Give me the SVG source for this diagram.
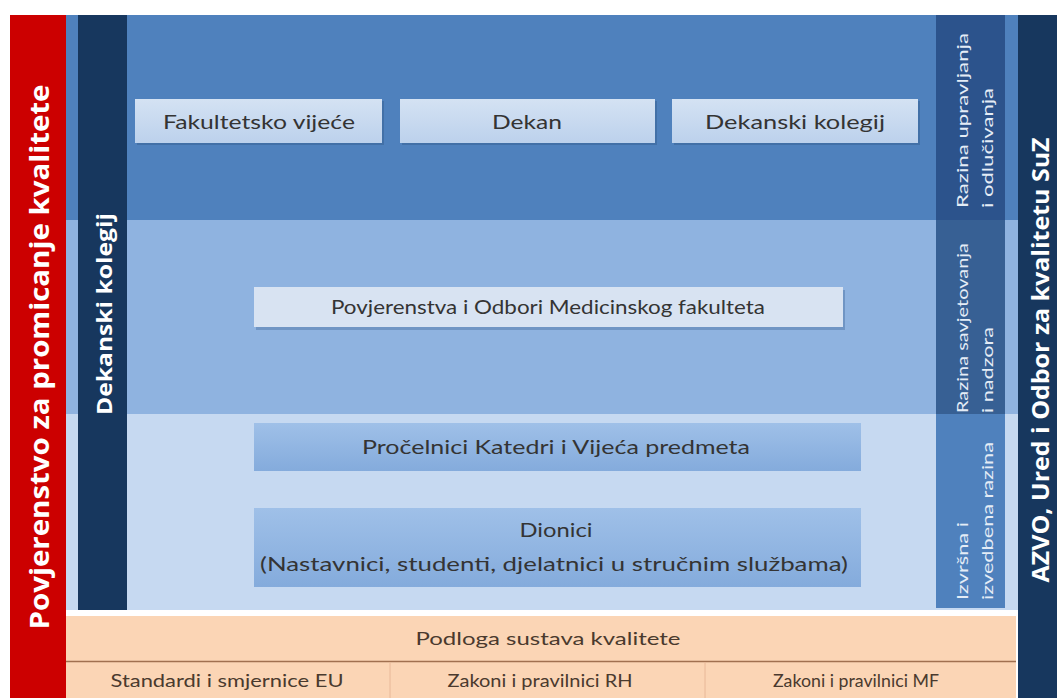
<svg xmlns="http://www.w3.org/2000/svg" width="1057" height="698" viewBox="0 0 1057 698">
<style>
.box{font-family:Lato,"Open Sans",sans-serif;font-size:19px;fill:#343434;text-anchor:middle}
.vt{font-family:"Open Sans",Lato,sans-serif;font-weight:bold;fill:#ffffff;text-anchor:middle}
.lv{font-family:Lato,"Open Sans",sans-serif;font-size:15px;fill:#e4ecf6;text-anchor:start}
.ft{font-family:Lato,"Open Sans",sans-serif;font-size:17px;fill:#4a3a2e;text-anchor:middle}
</style>
<defs>
<linearGradient id="gTop" x1="0" y1="0" x2="0" y2="1">
<stop offset="0" stop-color="#d4e2f3"/><stop offset="1" stop-color="#bcd1ec"/>
</linearGradient>
<linearGradient id="gMid" x1="0" y1="0" x2="0" y2="1">
<stop offset="0" stop-color="#9fc0e8"/><stop offset="1" stop-color="#84abdc"/>
</linearGradient>
</defs>
<rect x="0" y="0" width="1057" height="698" fill="#ffffff"/>
<g id="bands">
<rect x="66" y="15" width="952" height="205" fill="#4f81bd"/>
<rect x="66" y="220" width="952" height="194" fill="#8fb3e0"/>
<rect x="66" y="414" width="952" height="196" fill="#c6d9f1"/>
</g>
<g id="red-bar">
<rect x="10" y="15" width="56" height="683" fill="#cc0000"/>
<text class="vt" font-size="27" textLength="545" lengthAdjust="spacingAndGlyphs" transform="translate(49,357) rotate(-90)">Povjerenstvo za promicanje kvalitete</text>
</g>
<g id="dekanski-bar">
<rect x="78" y="15" width="49" height="595" fill="#17375e"/>
<text class="vt" font-size="22" textLength="202" lengthAdjust="spacingAndGlyphs" transform="translate(112,314) rotate(-90)">Dekanski kolegij</text>
</g>
<g id="azvo-bar">
<rect x="1018" y="15" width="39" height="683" fill="#17375e"/>
<text class="vt" font-size="24" textLength="445" lengthAdjust="spacingAndGlyphs" transform="translate(1049,360) rotate(-90)">AZVO, Ured i Odbor za kvalitetu SuZ</text>
</g>
<g id="razina-upravljanja">
<rect x="936" y="15" width="69" height="205" fill="#2c538c"/>
<text class="lv" textLength="175" lengthAdjust="spacingAndGlyphs" transform="translate(968,208) rotate(-90)">Razina upravljanja</text>
<text class="lv" textLength="120" lengthAdjust="spacingAndGlyphs" transform="translate(993,208) rotate(-90)">i odlučivanja</text>
</g>
<g id="razina-savjetovanja">
<rect x="936" y="220" width="69" height="194" fill="#376094"/>
<text class="lv" textLength="170" lengthAdjust="spacingAndGlyphs" transform="translate(968,413) rotate(-90)">Razina savjetovanja</text>
<text class="lv" textLength="86" lengthAdjust="spacingAndGlyphs" transform="translate(993,413) rotate(-90)">i nadzora</text>
</g>
<g id="izvrsna-razina">
<rect x="936" y="414" width="69" height="194" fill="#4f81bd"/>
<text class="lv" textLength="78" lengthAdjust="spacingAndGlyphs" transform="translate(968,600) rotate(-90)">Izvršna i</text>
<text class="lv" textLength="158" lengthAdjust="spacingAndGlyphs" transform="translate(993,600) rotate(-90)">izvedbena razina</text>
</g>
<g id="fakultetsko-vijece">
<rect x="137" y="101" width="247" height="44" fill="#3a6598" opacity="0.6"/>
<rect x="135" y="99" width="247" height="44" fill="url(#gTop)"/>
<text class="box" x="259" y="129" textLength="192" lengthAdjust="spacingAndGlyphs">Fakultetsko vijeće</text>
</g>
<g id="dekan">
<rect x="402" y="101" width="255" height="44" fill="#3a6598" opacity="0.6"/>
<rect x="400" y="99" width="255" height="44" fill="url(#gTop)"/>
<text class="box" x="527" y="129" textLength="70" lengthAdjust="spacingAndGlyphs">Dekan</text>
</g>
<g id="dekanski-kolegij">
<rect x="674" y="101" width="246" height="44" fill="#3a6598" opacity="0.6"/>
<rect x="672" y="99" width="246" height="44" fill="url(#gTop)"/>
<text class="box" x="795" y="129" textLength="180" lengthAdjust="spacingAndGlyphs">Dekanski kolegij</text>
</g>
<g id="povjerenstva">
<rect x="256" y="290" width="589" height="40" fill="#5c80b0" opacity="0.6"/>
<rect x="254" y="287" width="589" height="40" fill="#d8e3f2"/>
<text class="box" x="548" y="314" font-size="18" textLength="434" lengthAdjust="spacingAndGlyphs">Povjerenstva i Odbori Medicinskog fakulteta</text>
</g>
<g id="procelnici">
<rect x="254" y="423" width="607" height="48" fill="url(#gMid)"/>
<text class="box" x="556" y="454" font-size="20" textLength="388" lengthAdjust="spacingAndGlyphs">Pročelnici Katedri i Vijeća predmeta</text>
</g>
<g id="dionici">
<rect x="254" y="508" width="607" height="79" fill="url(#gMid)"/>
<text class="box" x="556" y="537" font-size="20" textLength="73" lengthAdjust="spacingAndGlyphs">Dionici</text>
<text class="box" x="554" y="571" font-size="20" textLength="588" lengthAdjust="spacingAndGlyphs">(Nastavnici, studenti, djelatnici u stručnim službama)</text>
</g>
<g id="podloga">
<rect x="66" y="616" width="950" height="82" fill="#fbd5b5"/>
<line x1="66" y1="661.5" x2="1016" y2="661.5" stroke="#a07050" stroke-width="1.5"/>
<line x1="390" y1="662" x2="390" y2="698" stroke="#e8b898" stroke-width="1"/>
<line x1="705" y1="662" x2="705" y2="698" stroke="#e8b898" stroke-width="1"/>
<text class="ft" x="548" y="645" font-size="19" textLength="265" lengthAdjust="spacingAndGlyphs">Podloga sustava kvalitete</text>
<text class="ft" x="227" y="687" textLength="233" lengthAdjust="spacingAndGlyphs">Standardi i smjernice EU</text>
<text class="ft" x="540" y="687" textLength="185" lengthAdjust="spacingAndGlyphs">Zakoni i pravilnici RH</text>
<text class="ft" x="856" y="687" textLength="166" lengthAdjust="spacingAndGlyphs">Zakoni i pravilnici MF</text>
</g>
</svg>
